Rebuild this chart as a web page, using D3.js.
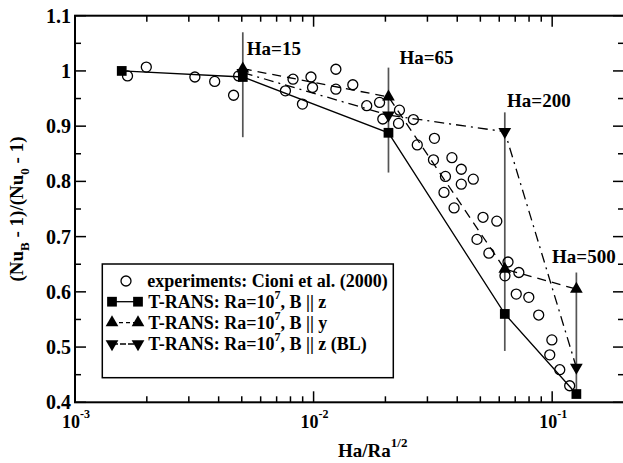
<!DOCTYPE html>
<html>
<head>
<meta charset="utf-8">
<script src="https://cdn.jsdelivr.net/npm/d3@7"></script>
<style>
  body { margin: 0; background: #fff; }
  svg { display: block; }
  text { font-family: "Liberation Serif", "Times New Roman", serif; font-weight: bold; fill: #000; }
</style>
</head>
<body>
<svg width="623" height="463"></svg>
<script>
// experiments: Cioni et al. (2000)
var expX = [0.00166, 0.00199, 0.00318, 0.00385, 0.00462, 0.00485, 0.00762, 0.0082, 0.00898, 0.00975,
            0.0099, 0.0124, 0.0124, 0.0146, 0.0167, 0.0189, 0.0195, 0.0229, 0.0227, 0.0262,
            0.0272, 0.0321, 0.0318, 0.0380, 0.0416, 0.0357, 0.0416, 0.0467, 0.0352, 0.0388,
            0.0513, 0.0586, 0.0484, 0.0543, 0.0653, 0.0634, 0.0725, 0.0707, 0.0798, 0.0878,
            0.0997, 0.0977, 0.1076, 0.1184];
var expY = [0.991, 1.007, 0.989, 0.981, 0.956, 0.991, 0.964, 0.985, 0.940, 0.989,
            0.970, 1.003, 0.967, 0.975, 0.937, 0.943, 0.913, 0.929, 0.905, 0.912,
            0.866, 0.878, 0.839, 0.843, 0.822, 0.809, 0.795, 0.804, 0.780, 0.752,
            0.735, 0.728, 0.695, 0.670, 0.654, 0.629, 0.635, 0.596, 0.590, 0.558,
            0.513, 0.486, 0.459, 0.430];

// T-RANS, B || z
var sqX = [0.00157, 0.00505, 0.0206, 0.0633, 0.1263];
var sqY = [1.0, 0.989, 0.888, 0.560, 0.415];
// T-RANS, B || y
var upX = [0.00505, 0.0206, 0.0633, 0.1263];
var upY = [1.004, 0.953, 0.641, 0.605];
// T-RANS, B || z (BL)
var dnX = [0.00505, 0.0206, 0.0633, 0.1263];
var dnY = [0.997, 0.920, 0.890, 0.463];

// Ha marks
var haNames = ["Ha=15", "Ha=65", "Ha=200", "Ha=500"];
var haX = [0.00505, 0.0206, 0.0633, 0.1263];
var haTop = [1.07, 1.006, 0.925, 0.635];
var haBottom = [0.88, 0.816, 0.493, 0.415];
var haLabelX = [0.00525, 0.0229, 0.0647, 0.0999];
var haLabelY = [1.029, 1.0125, 0.935, 0.652];

var xMajor = [1e-3, 1e-2, 1e-1];
var xExp = ["-3", "-2", "-1"];
var yMajor = [0.4, 0.5, 0.6, 0.7, 0.8, 0.9, 1.0, 1.1];
var yLabels = ["0.4", "0.5", "0.6", "0.7", "0.8", "0.9", "1", "1.1"];

var svg = d3.select("svg");
var pLeft = 75, pRight = 624, pTop = 15.7, pBottom = 402.3;

var x = d3.scaleLog().domain([1e-3, 0.2]).range([pLeft, pRight]);
var y = d3.scaleLinear().domain([0.4, 1.1]).range([pBottom, pTop]);

function zip(a, b) { return a.map(function(v, i) { return [v, b[i]]; }); }

// minor ticks
var xMinor = [];
[1e-3, 1e-2, 1e-1].forEach(function(d) {
  for (var k = 2; k <= 9; k++) if (d * k <= 0.2) xMinor.push(d * k);
});
var yMinor = d3.range(0.45, 1.1, 0.1);

var ax = svg.append("g").attr("stroke", "#000").attr("stroke-width", 1.5);
xMajor.forEach(function(d) {
  ax.append("line").attr("x1", x(d)).attr("x2", x(d)).attr("y1", pBottom).attr("y2", pBottom - 11);
  ax.append("line").attr("x1", x(d)).attr("x2", x(d)).attr("y1", pTop).attr("y2", pTop + 11);
});
xMinor.forEach(function(d) {
  ax.append("line").attr("x1", x(d)).attr("x2", x(d)).attr("y1", pBottom).attr("y2", pBottom - 6);
  ax.append("line").attr("x1", x(d)).attr("x2", x(d)).attr("y1", pTop).attr("y2", pTop + 6);
});
yMajor.forEach(function(d) {
  ax.append("line").attr("x1", pLeft).attr("x2", pLeft + 11).attr("y1", y(d)).attr("y2", y(d));
  ax.append("line").attr("x1", pRight).attr("x2", pRight - 11).attr("y1", y(d)).attr("y2", y(d));
});
yMinor.forEach(function(d) {
  ax.append("line").attr("x1", pLeft).attr("x2", pLeft + 6).attr("y1", y(d)).attr("y2", y(d));
  ax.append("line").attr("x1", pRight).attr("x2", pRight - 6).attr("y1", y(d)).attr("y2", y(d));
});
svg.append("rect").attr("x", pLeft).attr("y", pTop).attr("width", pRight - pLeft).attr("height", pBottom - pTop)
  .attr("fill", "none").attr("stroke", "#000").attr("stroke-width", 2);

// tick labels
svg.selectAll(".ylab").data(yMajor).enter().append("text")
  .attr("class", "ylab")
  .attr("x", pLeft - 4).attr("y", function(d) { return y(d) + 7; })
  .attr("text-anchor", "end").style("font-size", "20px")
  .text(function(d, i) { return yLabels[i]; });

var xl = svg.selectAll(".xlab").data(xMajor).enter().append("text")
  .attr("class", "xlab")
  .attr("x", function(d) { return x(d) + 1; }).attr("y", 428)
  .attr("text-anchor", "middle").style("font-size", "18px");
xl.append("tspan").text("10");
xl.append("tspan").attr("dy", -10).style("font-size", "12px").text(function(d, i) { return xExp[i]; });

// axis titles
var xt = svg.append("text").attr("x", 338).attr("y", 457).style("font-size", "19px");
xt.append("tspan").text("Ha/Ra");
xt.append("tspan").attr("dy", -10).style("font-size", "13px").text("1/2");

var yt = svg.append("text").attr("transform", "translate(23," + ((pTop + pBottom) / 2) + ") rotate(-90)")
  .attr("text-anchor", "middle").style("font-size", "19px");
yt.append("tspan").text("(Nu");
yt.append("tspan").attr("dy", 6).style("font-size", "13px").text("B");
yt.append("tspan").attr("dy", -6).text(" - 1)/(Nu");
yt.append("tspan").attr("dy", 6).style("font-size", "13px").text("0");
yt.append("tspan").attr("dy", -6).text(" - 1)");

// Ha vertical bars
svg.selectAll(".habar").data(haX).enter().append("line")
  .attr("x1", function(d) { return x(d); }).attr("x2", function(d) { return x(d); })
  .attr("y1", function(d, i) { return y(haTop[i]); }).attr("y2", function(d, i) { return y(haBottom[i]); })
  .attr("stroke", "#555").attr("stroke-width", 1.7);

svg.selectAll(".halab").data(haNames).enter().append("text")
  .attr("x", function(d, i) { return x(haLabelX[i]); })
  .attr("y", function(d, i) { return y(haLabelY[i]); })
  .style("font-size", "19px").text(function(d) { return d; });

// lines
var line = d3.line().x(function(d) { return x(d[0]); }).y(function(d) { return y(d[1]); });
svg.append("path").datum(zip(sqX, sqY)).attr("d", line)
  .attr("fill", "none").attr("stroke", "#000").attr("stroke-width", 1.3);
svg.append("path").datum(zip(upX, upY)).attr("d", line)
  .attr("fill", "none").attr("stroke", "#000").attr("stroke-width", 1.3).attr("stroke-dasharray", "9,6");
svg.append("path").datum(zip(dnX, dnY)).attr("d", line)
  .attr("fill", "none").attr("stroke", "#000").attr("stroke-width", 1.3).attr("stroke-dasharray", "10,5,2,5");

// experiment circles
svg.selectAll(".exp").data(zip(expX, expY)).enter().append("circle")
  .attr("cx", function(d) { return x(d[0]); }).attr("cy", function(d) { return y(d[1]); })
  .attr("r", 5).attr("fill", "none").attr("stroke", "#000").attr("stroke-width", 1.3);

// markers
var sq = d3.symbol().type(d3.symbolSquare).size(95);
var tri = d3.symbol().type(d3.symbolTriangle).size(70);
svg.selectAll(".sq").data(zip(sqX, sqY)).enter().append("path")
  .attr("d", sq).attr("transform", function(d) { return "translate(" + x(d[0]) + "," + y(d[1]) + ")"; });
svg.selectAll(".up").data(zip(upX, upY)).enter().append("path")
  .attr("d", tri).attr("transform", function(d) { return "translate(" + x(d[0]) + "," + y(d[1]) + ")"; });
svg.selectAll(".dn").data(zip(dnX, dnY)).enter().append("path")
  .attr("d", tri).attr("transform", function(d) { return "translate(" + x(d[0]) + "," + y(d[1]) + ") rotate(180)"; });

// legend
var lg = svg.append("g");
lg.append("rect").attr("x", 102.3).attr("y", 264).attr("width", 291).attr("height", 113.7)
  .attr("fill", "#fff").attr("stroke", "#000").attr("stroke-width", 1.5);
lg.append("circle").attr("cx", 126).attr("cy", 281).attr("r", 5)
  .attr("fill", "none").attr("stroke", "#000").attr("stroke-width", 1.3);
lg.append("text").attr("x", 147.3).attr("y", 287).style("font-size", "18px").text("experiments: Cioni et al. (2000)");

var rows = [
  { y: 301.7, sym: sq, rot: 0, dash: null, tail: ", B || z" },
  { y: 322.7, sym: tri, rot: 0, dash: "4,3", tail: ", B || y" },
  { y: 344, sym: tri, rot: 180, dash: "6,2", tail: ", B || z (BL)" }
];
rows.forEach(function(r) {
  lg.append("line").attr("x1", 112).attr("x2", 138).attr("y1", r.y).attr("y2", r.y)
    .attr("stroke", "#000").attr("stroke-width", 1.3).attr("stroke-dasharray", r.dash);
  [112, 138].forEach(function(px) {
    lg.append("path").attr("d", r.sym).attr("transform", "translate(" + px + "," + r.y + ") rotate(" + r.rot + ")");
  });
  var t = lg.append("text").attr("x", 148.3).attr("y", r.y + 6).style("font-size", "18px");
  t.append("tspan").text("T-RANS: Ra=10");
  t.append("tspan").attr("dy", -9).style("font-size", "12px").text("7");
  t.append("tspan").attr("dy", 9).text(r.tail);
});
</script>
</body>
</html>
